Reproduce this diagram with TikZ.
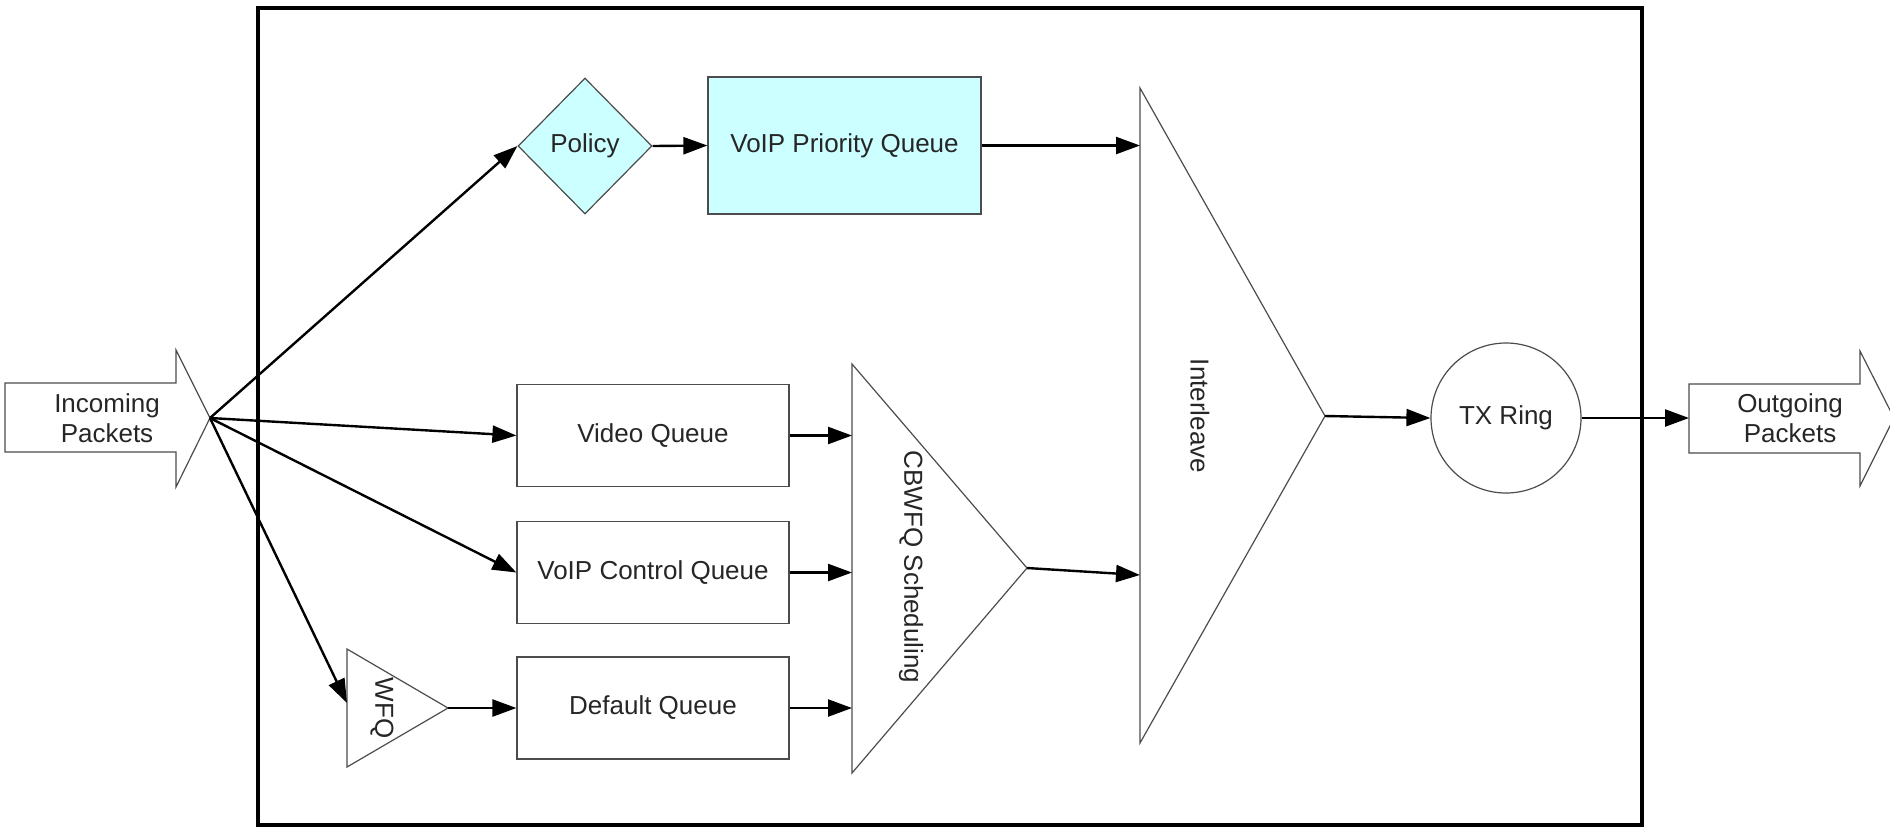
\documentclass[tikz,border=0pt]{standalone}
\usepackage{fontspec}
\setmainfont{Liberation Sans}
\usetikzlibrary{arrows.meta,shapes.geometric}
\definecolor{prioc}{HTML}{CCFFFF}
\begin{document}
\begin{tikzpicture}[x=0.5pt,y=-0.5pt,
  every node/.style={font=\fontsize{13pt}{15pt}\selectfont, text=black!85},
  shapeline/.style={draw=black!70, line width=0.6pt},
  queuebox/.style={shapeline, rectangle, minimum width=136pt, minimum height=51pt, inner sep=0pt},
  prio/.style={shapeline, fill=prioc},
  conn/.style={line width=1.2pt, -{Triangle[length=12pt,width=8.5pt]}},
  frameline/.style={draw=black, line width=2pt}
]
\useasboundingbox (0,0) rectangle (1890,827);

% outer frame
\draw[frameline] (258,8) rectangle (1642,825);

% incoming / outgoing block arrows
\draw[shapeline] (5,383) -- (176,383) -- (176,350) -- (210,418) -- (176,487) -- (176,452) -- (5,452) -- cycle;
\node[align=center] (inlbl) at (107,418) {Incoming\\Packets};
\coordinate (intip) at (210,418);

\draw[shapeline] (1689,384) -- (1860,384) -- (1860,351) -- (1894,418) -- (1860,486) -- (1860,453) -- (1689,453) -- cycle;
\node[align=center] (outlbl) at (1790,418) {Outgoing\\Packets};
\coordinate (outleft) at (1689,418);

% policy and priority queue
\node[shapeline, prio, diamond, minimum width=67pt, minimum height=68pt, inner sep=0pt] (pol) at (585,146) {Policy};
\node[queuebox, prio, minimum width=136.5pt, minimum height=68.5pt] (vpq) at (844.5,145.5) {VoIP Priority Queue};

% queues
\node[queuebox] (vid) at (653,435.5) {Video Queue};
\node[queuebox] (ctl) at (653,572.5) {VoIP Control Queue};
\node[queuebox] (def) at (653,708) {Default Queue};

% WFQ triangle
\draw[shapeline] (347,649) -- (448,708) -- (347,767) -- cycle;
\node[rotate=-90] (wfqlbl) at (382,708) {WFQ};
\coordinate (wfqin) at (347,703);
\coordinate (wfqtip) at (448,708);

% CBWFQ triangle
\draw[shapeline] (852,364) -- (1027,568) -- (852,773) -- cycle;
\node[rotate=-90] (cbwlbl) at (911,567) {CBWFQ Scheduling};
\coordinate (cbwtip) at (1027,568);

% Interleave triangle
\draw[shapeline] (1140,88) -- (1325,416) -- (1140,743) -- cycle;
\node[rotate=-90] (illbl) at (1200,416) {Interleave};
\coordinate (iltip) at (1325,416);

% TX ring
\node[shapeline, circle, minimum size=75pt, inner sep=0pt] (ring) at (1506,418) {TX Ring};

% connectors
\draw[conn] (intip) -- (pol.west);
\draw[conn] (intip) -- (vid.west);
\draw[conn] (intip) -- (ctl.west);
\draw[conn] (intip) -- (wfqin);
\draw[conn] (pol.east) -- (vpq.west);
\draw[conn] (wfqtip) -- (def.west);
\draw[conn] (vid.east) -- (852,435.5);
\draw[conn] (ctl.east) -- (852,572.5);
\draw[conn] (def.east) -- (852,708);
\draw[conn] (vpq.east) -- (1140,145.5);
\draw[conn] (cbwtip) -- (1140,575);
\draw[conn] (iltip) -- (ring.west);
\draw[conn] (ring.east) -- (outleft);
\end{tikzpicture}
\end{document}
